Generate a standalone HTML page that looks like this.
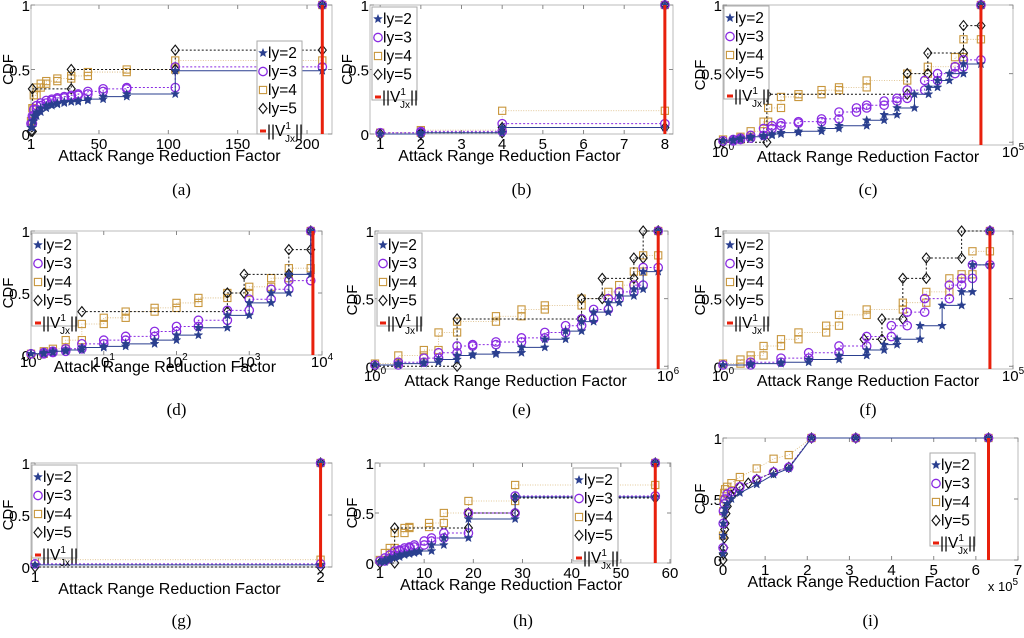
<!DOCTYPE html>
<html><head><meta charset="utf-8">
<style>
body{margin:0;background:#fff;width:1024px;height:633px;overflow:hidden;font-family:"Liberation Sans",sans-serif}
svg text{font-family:"Liberation Sans",sans-serif}
.cap{font-family:"Liberation Serif",serif;font-size:17px}
</style></head>
<body>
<svg id="fig" width="1024" height="633" xmlns="http://www.w3.org/2000/svg"></svg>
<script>
// ---- data ----
const aX2=[1,2,3,5,8,12,16,20,25,30,35,42,53,70,105,211];
const aY2=[0.05,0.1,0.14,0.17,0.2,0.22,0.23,0.24,0.25,0.25,0.26,0.27,0.29,0.31,0.49,1];
const aX3=[1,2,3,5,8,12,16,20,25,30,35,42,53,70,105,211];
const aY3=[0.08,0.14,0.19,0.22,0.24,0.26,0.27,0.28,0.29,0.3,0.31,0.33,0.35,0.36,0.52,1];
const aX4=[1,2,3,5,8,12,20,30,42,70,105,211];
const aY4=[0.1,0.2,0.3,0.36,0.39,0.41,0.43,0.45,0.48,0.5,0.57,1];
const aX5=[1,2,30,105,211];
const aY5=[0.02,0.35,0.5,0.65,1];

const bX=[1,2,4,8];
const bY2=[0.0,0.01,0.05,1];
const bY3=[0.01,0.02,0.08,1];
const bY4=[0.01,0.03,0.18,1];
const bY5=[0,0.01,0.05,1];

const cX2=[1,1.5,2,3,5,7,10,20,50,100,300,600,1000,2000,3500,5000,8000,14000,28000];
const cY2=[0.01,0.02,0.03,0.04,0.05,0.06,0.07,0.08,0.1,0.12,0.16,0.2,0.25,0.35,0.4,0.45,0.5,0.57,1];
const cX3=[1,1.5,2,3,5,7,10,20,50,100,200,300,600,1000,1500,3000,5000,10000,14000,28000];
const cY3=[0.01,0.02,0.03,0.05,0.1,0.12,0.14,0.15,0.17,0.22,0.25,0.27,0.3,0.32,0.38,0.45,0.5,0.55,0.6,1];
const cX4=[1,2,3,5,6,10,20,50,100,300,1500,3400,10000,14000,28000];
const cY4=[0.02,0.04,0.08,0.15,0.25,0.33,0.35,0.38,0.4,0.45,0.5,0.55,0.62,0.75,1];
const cX5=[1,5.7,1500,3400,14000,28000];
const cY5=[0.0,0.35,0.5,0.65,0.85,1];

const dX=[1,1.5,2,3,5,10,20,50,100,200,500,1000,2000,3500,7000];
const dY2=[0.01,0.02,0.03,0.04,0.06,0.07,0.09,0.12,0.16,0.22,0.32,0.42,0.5,0.65,1];
const dY3=[0.01,0.02,0.03,0.05,0.09,0.12,0.15,0.19,0.23,0.28,0.36,0.45,0.53,0.6,1];
const dY4=[0.01,0.03,0.05,0.12,0.25,0.3,0.35,0.38,0.42,0.46,0.5,0.55,0.62,0.7,1];
const dX5=[5,500,850,3500,7000];
const dY5=[0.35,0.5,0.65,0.85,1];

const eX2=[1,3,10,20,48,100,300,1000,3000,8000,17000,30000,60000,100000,200000,310000,630000];
const eY2=[0.01,0.02,0.03,0.05,0.08,0.09,0.1,0.14,0.2,0.26,0.33,0.4,0.47,0.52,0.57,0.7,1];
const eX3=[1,3,10,20,48,100,300,1000,3000,8000,17000,30000,60000,100000,200000,310000,630000];
const eY3=[0.01,0.03,0.06,0.1,0.15,0.16,0.18,0.21,0.25,0.3,0.35,0.42,0.5,0.55,0.6,0.73,1];
const eX4=[1,3,10,20,48,300,1000,3000,17000,60000,100000,200000,310000,630000];
const eY4=[0.02,0.08,0.12,0.25,0.33,0.37,0.42,0.45,0.5,0.55,0.6,0.7,0.82,1];
const eX5=[1,48,17000,45000,200000,310000,630000];
const eY5=[0.0,0.35,0.5,0.65,0.8,1,1];

const fX2=[1,3,10,30,100,300,600,1000,2500,6000,13000,20000,40000];
const fY2=[0.01,0.02,0.03,0.05,0.08,0.12,0.16,0.2,0.3,0.45,0.55,0.75,1];
const fX3=[1,3,10,30,100,300,800,1500,3000,8000,13000,20000,40000];
const fY3=[0.01,0.03,0.06,0.1,0.15,0.22,0.3,0.4,0.5,0.6,0.65,0.75,1];
const fX4=[1,2,3,5,10,20,60,100,300,1260,3200,8000,13000,20000,40000];
const fY4=[0.02,0.05,0.08,0.15,0.2,0.25,0.3,0.38,0.42,0.47,0.55,0.65,0.68,0.85,1];
const fX5=[270,550,1260,3200,13000,40000];
const fY5=[0.2,0.35,0.65,0.8,1.0,1];

const gX=[1,2];
const gY2=[0.02,1];
const gY3=[0.03,1];
const gY4=[0.07,1];
const gY5=[0.0,1];

const hX2=[1,2,3,4,5,6,7,8,9,11.5,14,19,28.5,57];
const hY2=[0.01,0.03,0.05,0.06,0.08,0.09,0.1,0.11,0.12,0.18,0.25,0.44,0.66,1];
const hX3=[1,2,3,4,5,6,7,8,10,11.5,14,19,28.5,57];
const hY3=[0.02,0.05,0.08,0.12,0.13,0.15,0.16,0.18,0.22,0.25,0.3,0.5,0.67,1];
const hX4=[1,2,3,4,6,7,11,14,19,28.5,57];
const hY4=[0.03,0.1,0.15,0.3,0.35,0.36,0.4,0.5,0.62,0.78,1];
const hX5=[1,4,19,28.5,57];
const hY5=[0.0,0.35,0.5,0.65,1];

const iX=[100,500,1000,3000,5000,1e4,2e4,4e4,8e4,1.2e5,1.56e5,2.1e5,3.15e5,6.3e5];
const iY2=[0.05,0.2,0.3,0.38,0.42,0.46,0.5,0.55,0.62,0.7,0.75,1,1,1];
const iY3=[0.1,0.3,0.4,0.46,0.5,0.54,0.56,0.6,0.66,0.72,0.76,1,1,1];
const iY4=[0.2,0.4,0.5,0.55,0.58,0.6,0.63,0.68,0.75,0.83,0.86,1,1,1];
const iX5=[100,1000,2000,3000,4000,5000,7000,10000,15000,20000,30000,40000,60000,80000,1.2e5,1.56e5,2.1e5,3.15e5,6.3e5];
const iY5=[0.0,0.05,0.1,0.18,0.25,0.3,0.38,0.44,0.5,0.53,0.56,0.6,0.63,0.66,0.72,0.76,1,1,1];

const ns="http://www.w3.org/2000/svg";
const svg=document.getElementById('fig');
function el(tag,attrs,parent){const e=document.createElementNS(ns,tag);for(const k in attrs)e.setAttribute(k,attrs[k]);(parent||svg).appendChild(e);return e;}
const COL={2:'#2a3f8f',3:'#8a2be2',4:'#c8963c',5:'#111'};
const DASH={2:'',3:'2,2',4:'1,1.5',5:'2,2'};

function marker(g,type,x,y){
  const c=COL[type];let m;
  if(type==2){let p=[];for(let k=0;k<10;k++){const r=k%2?1.9:4.5,a=-Math.PI/2+k*Math.PI/5;p.push((x+r*Math.cos(a)).toFixed(1)+','+(y+r*Math.sin(a)).toFixed(1));}
    m=el('polygon',{points:p.join(' '),fill:c,stroke:c,'stroke-width':0.5},g);}
  else if(type==3)m=el('circle',{cx:x,cy:y,r:4.2,fill:'none',stroke:c,'stroke-width':1.3},g);
  else if(type==4)m=el('rect',{x:x-3.6,y:y-3.6,width:7.2,height:7.2,fill:'none',stroke:c,'stroke-width':1.1},g);
  else m=el('polygon',{points:`${x},${y-5} ${x+4},${y} ${x},${y+5} ${x-4},${y}`,fill:'none',stroke:c,'stroke-width':1.1},g);
  
  
}

function panel(p){
  const g=el('g',{});
  
  
  const W=p.R-p.L,H=p.B-p.T;
  const sx=v=>p.log?p.L+(Math.log10(v)-p.x0)/(p.x1-p.x0)*W:p.L+(v-p.x0)/(p.x1-p.x0)*W;
  const y0=p.y0||0;
  const sy=v=>p.B-(v-y0)/(1-y0)*H;
  el('rect',{x:p.L,y:p.T,width:W,height:H,fill:'#fff',stroke:'#bbb','stroke-width':1},g);
  [[0,'0'],[0.5,'0.5'],[1,'1']].forEach(([v,l])=>{
    const y=sy(v);
    el('line',{x1:p.L,y1:y,x2:p.L+4,y2:y,stroke:'#888'},g);
    el('line',{x1:p.R,y1:y,x2:p.R-4,y2:y,stroke:'#888'},g);
    const t=el('text',{x:p.L-1,y:y+6,'text-anchor':'end','font-size':15},g);t.textContent=l;
    
  });
  const tOff=p.log?9:15, xtOff=p.log?17:27;
  p.ticks.forEach((v,i)=>{
    const x=sx(v);
    el('line',{x1:x,y1:p.B,x2:x,y2:p.B-4,stroke:'#888'},g);
    el('line',{x1:x,y1:p.T,x2:x,y2:p.T+4,stroke:'#888'},g);
    const t=el('text',{x:x,y:p.B+tOff+(p.log?3:0),'text-anchor':'middle','font-size':15},g);
    if(p.log){t.textContent='10';const s=el('tspan',{dy:-7,'font-size':10},t);s.textContent=String(v).length-1;}
    else t.textContent=p.tickLabels[i];
    
  });
  const yl=el('text',{x:p.L-18,y:(p.T+p.B)/2,'text-anchor':'middle','font-size':15,transform:`rotate(-90 ${p.L-18} ${(p.T+p.B)/2})`},g);
  yl.textContent='CDF';
  const xl=el('text',{x:p.L+W*(p.xtf||0.46),y:p.B+xtOff,'text-anchor':'middle','font-size':16},g);
  xl.textContent='Attack Range Reduction Factor';
  if(p.exp){const t=el('text',{x:p.R,y:p.B+31,'text-anchor':'end','font-size':13},g);t.textContent='x 10';const s=el('tspan',{dy:-6,'font-size':10},t);s.textContent='5';}
  [4,5,3,2].forEach(k=>{
    const X=p.s[k][0],Y=p.s[k][1];
    let d='';
    X.forEach((v,i)=>{const x=sx(v),y=sy(Y[i]);
      if(i==0)d+=`M${x},${y}`;else if(p.lineSeg)d+=`L${x},${y}`;else d+=`H${x}V${y}`;});
    const path=el('path',{d:d,fill:'none',stroke:COL[k],'stroke-width':k==4?0.8:1,'stroke-dasharray':DASH[k],opacity:k==4?0.7:1},g);
    
    X.forEach((v,i)=>{marker(g,k,sx(v),sy(Y[i]));if(i>0&&!p.lineSeg)marker(g,k,sx(v),sy(Y[i-1]));});
  });
  const rx=sx(p.red);
  const rl=el('line',{x1:rx,y1:p.B,x2:rx,y2:sy(1),stroke:'#e8200c','stroke-width':3},g);
  
  const lg=el('g',{},g);
  const [lx,ly]=p.leg;
  el('rect',{x:lx,y:ly,width:45,height:93,fill:'#fff',stroke:'#aaa'},lg);
  [2,3,4,5].forEach((k,i)=>{
    const yy=ly+12+i*18.5;
    marker(lg,k,lx+6,yy);
    const t=el('text',{x:lx+11,y:yy+5,'font-size':15.5},lg);t.textContent='ly='+k;
    
  });
  const yy=ly+12+4*18.5+4;
  el('line',{x1:lx+3,y1:yy,x2:lx+9,y2:yy,stroke:'#e8200c','stroke-width':3},lg);
  const t=el('text',{x:lx+10,y:yy+5,'font-size':15.5},lg);t.textContent='||V';
  const s1=el('tspan',{dy:-7,'font-size':10},t);s1.textContent='1';
  const s2=el('tspan',{dx:-6,dy:13,'font-size':10},t);s2.textContent='Jx';
  const s3=el('tspan',{dy:-6},t);s3.textContent='||';
  
  const c=el('text',{x:(p.L+p.R)/2,y:p.cap,'text-anchor':'middle','class':'cap'},g);c.textContent='('+p.id+')';
  
}

panel({id:'a',L:31,R:332,T:5,B:134,x0:1,x1:218,ticks:[1,50,100,150,200],tickLabels:['1','50','100','150','200'],red:211,leg:[257,41],cap:195,
  s:{2:[aX2,aY2],3:[aX3,aY3],4:[aX4,aY4],5:[aX5,aY5]}});
panel({id:'b',L:370,R:673,T:5,B:134,x0:0.75,x1:8.2,ticks:[1,2,3,4,5,6,7,8],tickLabels:['1','2','3','4','5','6','7','8'],red:8,leg:[372,7],cap:195,
  s:{2:[bX,bY2],3:[bX,bY3],4:[bX,bY4],5:[bX,bY5]}});
panel({id:'c',L:723,R:1013,T:5,B:145,log:true,x0:0,x1:5,y0:-0.02,ticks:[1,100000],red:28000,leg:[724,6],cap:195,xtf:0.5,
  s:{2:[cX2,cY2],3:[cX3,cY3],4:[cX4,cY4],5:[cX5,cY5]}});
panel({id:'d',L:31,R:322,T:231,B:355,log:true,x0:0,x1:4,ticks:[1,10,100,1000,10000],red:7500,leg:[32,233],cap:415,
  s:{2:[dX,dY2],3:[dX,dY3],4:[dX,dY4],5:[dX5,dY5]}});
panel({id:'e',L:375,R:668,T:231,B:369,log:true,x0:0,x1:6,y0:-0.02,ticks:[1,1000000],red:630000,leg:[377,233],cap:415,xtf:0.48,
  s:{2:[eX2,eY2],3:[eX3,eY3],4:[eX4,eY4],5:[eX5,eY5]}});
panel({id:'f',L:723,R:1013,T:231,B:369,log:true,x0:0,x1:5,y0:-0.02,ticks:[1,100000],red:40000,leg:[724,233],cap:415,xtf:0.5,
  s:{2:[fX2,fY2],3:[fX3,fY3],4:[fX4,fY4],5:[fX5,fY5]}});
panel({id:'g',L:31,R:332,T:463,B:567,x0:0.986,x1:2.04,ticks:[1,2],tickLabels:['1','2'],red:2,leg:[32,465],cap:626,
  s:{2:[gX,gY2],3:[gX,gY3],4:[gX,gY4],5:[gX,gY5]}});
panel({id:'h',L:375,R:671,T:463,B:563,x0:0,x1:60.2,ticks:[1,10,20,30,40,50,60],tickLabels:['1','10','20','30','40','50','60'],red:57,leg:[573,468],cap:626,
  s:{2:[hX2,hY2],3:[hX3,hY3],4:[hX4,hY4],5:[hX5,hY5]}});
panel({id:'i',L:723,R:1018,T:438,B:560,x0:0,x1:700000,lineSeg:true,exp:true,ticks:[0,100000,200000,300000,400000,500000,600000,700000],tickLabels:['0','1','2','3','4','5','6','7'],red:630000,leg:[930,453],cap:626,
  s:{2:[iX,iY2],3:[iX,iY3],4:[iX,iY4],5:[iX5,iY5]}});
</script>
</body></html>
